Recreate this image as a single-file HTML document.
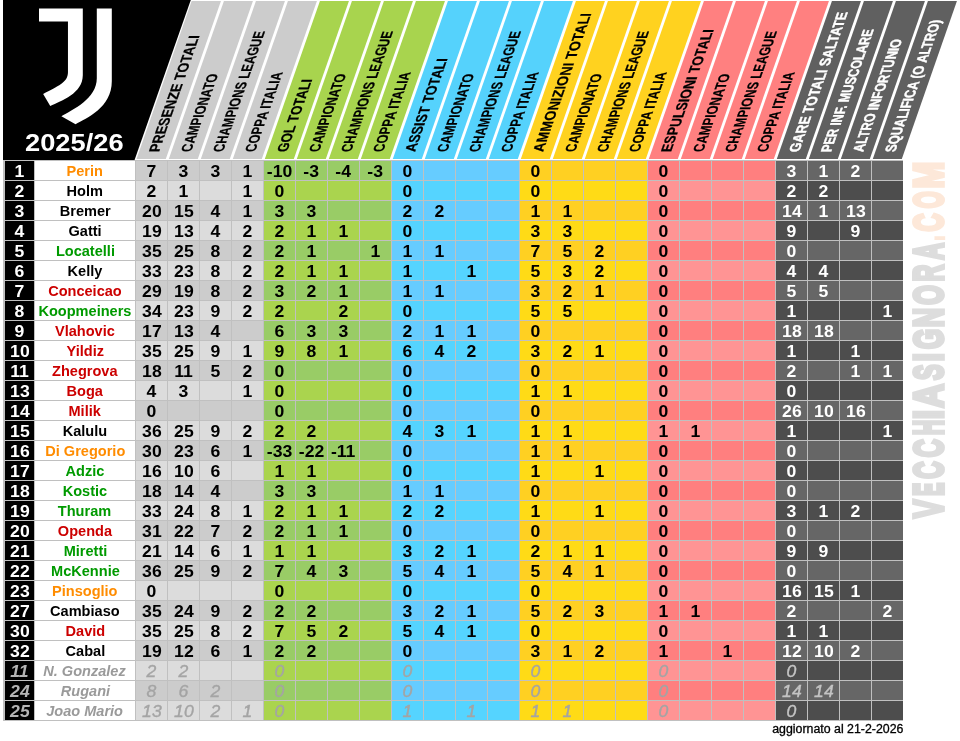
<!DOCTYPE html>
<html><head><meta charset="utf-8"><title>Juventus 2025/26</title>
<style>
html,body{margin:0;padding:0;background:#fff;}
body{width:960px;height:741px;overflow:hidden;position:relative;font-family:"Liberation Sans",Arial,sans-serif;}
svg{position:absolute;left:0;top:0;}
#t{position:absolute;left:3px;top:160px;width:900px;height:561px;background:#c0c0c0;}
.c{position:absolute;height:19px;line-height:21px;text-align:center;font-weight:bold;font-size:16px;color:#000;white-space:nowrap;overflow:hidden;}
.n{background:#000;color:#fff;width:29px;left:2px;}
.m{background:#fff;width:100px;left:32px;line-height:20px;}
.m span{display:inline-block;transform:scaleX(.97);font-size:15px;}
.d{width:31px;}
.d b,.n b{display:inline-block;font-weight:bold;transform:scaleX(1.1) translateY(0px);}
.w{color:#fff;}
.x{color:#9a9a9a;font-style:italic;}
.d.x b,.d.xw b{font-weight:normal;-webkit-text-stroke:0.35px currentColor;}
.d.x{color:#a4a4a4;}
.xw{color:#c4c4c4;font-style:italic;}
.n.xw{color:#b4b4b4;}
.o{color:#ff8c00;}.k{color:#000;}.g{color:#009a00;}.r{color:#cc0000;}
#upd{position:absolute;right:57px;top:722px;font-size:12px;line-height:14px;color:#000;white-space:nowrap;transform:scaleX(1.03);transform-origin:100% 0;-webkit-text-stroke:0.3px #000;}
</style></head><body>
<svg width="960" height="160" viewBox="0 0 960 160">
<polygon points="3,0 190.8,0 134.55,160 3,160" fill="#000"/>
<polygon points="191.64,1 220.94,1 165.8,159 136.5,159" fill="#cccccc"/>
<polygon points="223.94,1 252.94,1 197.8,159 168.8,159" fill="#cccccc"/>
<polygon points="255.94,1 284.94,1 229.8,159 200.8,159" fill="#cccccc"/>
<polygon points="287.94,1 316.94,1 261.8,159 232.8,159" fill="#cccccc"/>
<polygon points="319.94,1 348.94,1 293.8,159 264.8,159" fill="#a8d44e"/>
<polygon points="351.94,1 380.94,1 325.8,159 296.8,159" fill="#a8d44e"/>
<polygon points="383.94,1 412.94,1 357.8,159 328.8,159" fill="#a8d44e"/>
<polygon points="415.94,1 444.94,1 389.8,159 360.8,159" fill="#a8d44e"/>
<polygon points="447.94,1 476.94,1 421.8,159 392.8,159" fill="#55d2fc"/>
<polygon points="479.94,1 508.94,1 453.8,159 424.8,159" fill="#55d2fc"/>
<polygon points="511.94,1 540.94,1 485.8,159 456.8,159" fill="#55d2fc"/>
<polygon points="543.94,1 572.94,1 517.8,159 488.8,159" fill="#55d2fc"/>
<polygon points="575.94,1 604.94,1 549.8,159 520.8,159" fill="#ffd21f"/>
<polygon points="607.94,1 636.94,1 581.8,159 552.8,159" fill="#ffd21f"/>
<polygon points="639.94,1 668.94,1 613.8,159 584.8,159" fill="#ffd21f"/>
<polygon points="671.94,1 700.94,1 645.8,159 616.8,159" fill="#ffd21f"/>
<polygon points="703.94,1 732.94,1 677.8,159 648.8,159" fill="#ff8080"/>
<polygon points="735.94,1 764.94,1 709.8,159 680.8,159" fill="#ff8080"/>
<polygon points="767.94,1 796.94,1 741.8,159 712.8,159" fill="#ff8080"/>
<polygon points="799.94,1 828.94,1 773.8,159 744.8,159" fill="#ff8080"/>
<polygon points="831.94,1 860.94,1 805.8,159 776.8,159" fill="#606060"/>
<polygon points="863.94,1 892.94,1 837.8,159 808.8,159" fill="#606060"/>
<polygon points="895.94,1 924.94,1 869.8,159 840.8,159" fill="#606060"/>
<polygon points="927.94,1 956.94,1 901.8,159 872.8,159" fill="#606060"/>
<g font-family="Liberation Sans, Arial, sans-serif" font-weight="bold" font-size="15">
<text transform="matrix(0.35,-1,1,0,158.94,152)" fill="#000" stroke="#000" stroke-width="0.25" textLength="116.7" lengthAdjust="spacingAndGlyphs">PRESENZE TOTALI</text>
<text transform="matrix(0.35,-1,1,0,190.94,152)" fill="#000" stroke="#000" stroke-width="0.25" textLength="78.3" lengthAdjust="spacingAndGlyphs">CAMPIONATO</text>
<text transform="matrix(0.35,-1,1,0,222.94,152)" fill="#000" stroke="#000" stroke-width="0.25" textLength="121" lengthAdjust="spacingAndGlyphs">CHAMPIONS LEAGUE</text>
<text transform="matrix(0.35,-1,1,0,254.94,152)" fill="#000" stroke="#000" stroke-width="0.25" textLength="80" lengthAdjust="spacingAndGlyphs">COPPA ITALIA</text>
<text transform="matrix(0.35,-1,1,0,286.94,152)" fill="#000" stroke="#000" stroke-width="0.25" textLength="72.8" lengthAdjust="spacingAndGlyphs">GOL TOTALI</text>
<text transform="matrix(0.35,-1,1,0,318.94,152)" fill="#000" stroke="#000" stroke-width="0.25" textLength="78.3" lengthAdjust="spacingAndGlyphs">CAMPIONATO</text>
<text transform="matrix(0.35,-1,1,0,350.94,152)" fill="#000" stroke="#000" stroke-width="0.25" textLength="121" lengthAdjust="spacingAndGlyphs">CHAMPIONS LEAGUE</text>
<text transform="matrix(0.35,-1,1,0,382.94,152)" fill="#000" stroke="#000" stroke-width="0.25" textLength="80" lengthAdjust="spacingAndGlyphs">COPPA ITALIA</text>
<text transform="matrix(0.35,-1,1,0,414.94,152)" fill="#000" stroke="#000" stroke-width="0.25" textLength="93.8" lengthAdjust="spacingAndGlyphs">ASSIST TOTALI</text>
<text transform="matrix(0.35,-1,1,0,446.94,152)" fill="#000" stroke="#000" stroke-width="0.25" textLength="78.3" lengthAdjust="spacingAndGlyphs">CAMPIONATO</text>
<text transform="matrix(0.35,-1,1,0,478.94,152)" fill="#000" stroke="#000" stroke-width="0.25" textLength="121" lengthAdjust="spacingAndGlyphs">CHAMPIONS LEAGUE</text>
<text transform="matrix(0.35,-1,1,0,510.94,152)" fill="#000" stroke="#000" stroke-width="0.25" textLength="80" lengthAdjust="spacingAndGlyphs">COPPA ITALIA</text>
<text transform="matrix(0.35,-1,1,0,542.94,152)" fill="#000" stroke="#000" stroke-width="0.25" textLength="139" lengthAdjust="spacingAndGlyphs">AMMONIZIONI TOTALI</text>
<text transform="matrix(0.35,-1,1,0,574.94,152)" fill="#000" stroke="#000" stroke-width="0.25" textLength="78.3" lengthAdjust="spacingAndGlyphs">CAMPIONATO</text>
<text transform="matrix(0.35,-1,1,0,606.94,152)" fill="#000" stroke="#000" stroke-width="0.25" textLength="121" lengthAdjust="spacingAndGlyphs">CHAMPIONS LEAGUE</text>
<text transform="matrix(0.35,-1,1,0,638.94,152)" fill="#000" stroke="#000" stroke-width="0.25" textLength="80" lengthAdjust="spacingAndGlyphs">COPPA ITALIA</text>
<text transform="matrix(0.35,-1,1,0,670.94,152)" fill="#000" stroke="#000" stroke-width="0.25" textLength="122.8" lengthAdjust="spacingAndGlyphs">ESPULSIONI TOTALI</text>
<text transform="matrix(0.35,-1,1,0,702.94,152)" fill="#000" stroke="#000" stroke-width="0.25" textLength="78.3" lengthAdjust="spacingAndGlyphs">CAMPIONATO</text>
<text transform="matrix(0.35,-1,1,0,734.94,152)" fill="#000" stroke="#000" stroke-width="0.25" textLength="121" lengthAdjust="spacingAndGlyphs">CHAMPIONS LEAGUE</text>
<text transform="matrix(0.35,-1,1,0,766.94,152)" fill="#000" stroke="#000" stroke-width="0.25" textLength="80" lengthAdjust="spacingAndGlyphs">COPPA ITALIA</text>
<text transform="matrix(0.35,-1,1,0,798.94,152)" fill="#fff" stroke="#fff" stroke-width="0.45" textLength="140" lengthAdjust="spacingAndGlyphs">GARE TOTALI SALTATE</text>
<text transform="matrix(0.35,-1,1,0,830.94,152)" fill="#fff" stroke="#fff" stroke-width="0.45" textLength="122.8" lengthAdjust="spacingAndGlyphs">PER INF. MUSCOLARE</text>
<text transform="matrix(0.35,-1,1,0,862.94,152)" fill="#fff" stroke="#fff" stroke-width="0.45" textLength="113" lengthAdjust="spacingAndGlyphs">ALTRO INFORTUNIO</text>
<text transform="matrix(0.35,-1,1,0,894.94,152)" fill="#fff" stroke="#fff" stroke-width="0.45" textLength="132" lengthAdjust="spacingAndGlyphs">SQUALIFICA (O ALTRO)</text>
</g>
<path fill="#fff" d="M39,8.5 H82.8 V75.24 C82.63,93.68 61.49,100.43 50.24,106.11 L43.16,93.97 C57.88,85.94 67.96,82.61 67.96,72.21 V21.5 H39 Z"/>
<path fill="#fff" d="M96.8,8.5 H111.8 V81.32 C111.78,107.82 86.33,118.26 75.55,124.33 L61.38,116.23 C72,110.09 96.8,98.98 96.8,78.28 Z"/>
<text x="25" y="150.6" fill="#fff" font-family="Liberation Sans, Arial, sans-serif" font-weight="bold" font-size="23.5" textLength="98.6" lengthAdjust="spacingAndGlyphs">2025/26</text>
</svg>
<div id="t">
<div class="c n" style="top:1px"><b>1</b></div>
<div class="c m o" style="top:1px"><span>Perin</span></div>
<div class="c d" style="top:1px;left:133px;background:#cccccc"><b>7</b></div>
<div class="c d" style="top:1px;left:165px;background:#cccccc"><b>3</b></div>
<div class="c d" style="top:1px;left:197px;background:#cccccc"><b>3</b></div>
<div class="c d" style="top:1px;left:229px;background:#cccccc"><b>1</b></div>
<div class="c d" style="top:1px;left:261px;background:#99cc66"><b>-10</b></div>
<div class="c d" style="top:1px;left:293px;background:#99cc66"><b>-3</b></div>
<div class="c d" style="top:1px;left:325px;background:#99cc66"><b>-4</b></div>
<div class="c d" style="top:1px;left:357px;background:#99cc66"><b>-3</b></div>
<div class="c d" style="top:1px;left:389px;background:#66ccff"><b>0</b></div>
<div class="c d" style="top:1px;left:421px;background:#66ccff"></div>
<div class="c d" style="top:1px;left:453px;background:#66ccff"></div>
<div class="c d" style="top:1px;left:485px;background:#66ccff"></div>
<div class="c d" style="top:1px;left:517px;background:#ffd022"><b>0</b></div>
<div class="c d" style="top:1px;left:549px;background:#ffd022"></div>
<div class="c d" style="top:1px;left:581px;background:#ffd022"></div>
<div class="c d" style="top:1px;left:613px;background:#ffd022"></div>
<div class="c d" style="top:1px;left:645px;background:#ff7f7f"><b>0</b></div>
<div class="c d" style="top:1px;left:677px;background:#ff7f7f"></div>
<div class="c d" style="top:1px;left:709px;background:#ff7f7f"></div>
<div class="c d" style="top:1px;left:741px;background:#ff7f7f"></div>
<div class="c d w" style="top:1px;left:773px;background:#666666"><b>3</b></div>
<div class="c d w" style="top:1px;left:805px;background:#666666"><b>1</b></div>
<div class="c d w" style="top:1px;left:837px;background:#666666"><b>2</b></div>
<div class="c d w" style="top:1px;left:869px;background:#666666"></div>
<div class="c n" style="top:21px"><b>2</b></div>
<div class="c m k" style="top:21px"><span>Holm</span></div>
<div class="c d" style="top:21px;left:133px;background:#dcdcdc"><b>2</b></div>
<div class="c d" style="top:21px;left:165px;background:#dcdcdc"><b>1</b></div>
<div class="c d" style="top:21px;left:197px;background:#dcdcdc"></div>
<div class="c d" style="top:21px;left:229px;background:#dcdcdc"><b>1</b></div>
<div class="c d" style="top:21px;left:261px;background:#aad44e"><b>0</b></div>
<div class="c d" style="top:21px;left:293px;background:#aad44e"></div>
<div class="c d" style="top:21px;left:325px;background:#aad44e"></div>
<div class="c d" style="top:21px;left:357px;background:#aad44e"></div>
<div class="c d" style="top:21px;left:389px;background:#55d4ff"><b>0</b></div>
<div class="c d" style="top:21px;left:421px;background:#55d4ff"></div>
<div class="c d" style="top:21px;left:453px;background:#55d4ff"></div>
<div class="c d" style="top:21px;left:485px;background:#55d4ff"></div>
<div class="c d" style="top:21px;left:517px;background:#ffdb16"><b>0</b></div>
<div class="c d" style="top:21px;left:549px;background:#ffdb16"></div>
<div class="c d" style="top:21px;left:581px;background:#ffdb16"></div>
<div class="c d" style="top:21px;left:613px;background:#ffdb16"></div>
<div class="c d" style="top:21px;left:645px;background:#ff9494"><b>0</b></div>
<div class="c d" style="top:21px;left:677px;background:#ff9494"></div>
<div class="c d" style="top:21px;left:709px;background:#ff9494"></div>
<div class="c d" style="top:21px;left:741px;background:#ff9494"></div>
<div class="c d w" style="top:21px;left:773px;background:#4d4d4d"><b>2</b></div>
<div class="c d w" style="top:21px;left:805px;background:#4d4d4d"><b>2</b></div>
<div class="c d w" style="top:21px;left:837px;background:#4d4d4d"></div>
<div class="c d w" style="top:21px;left:869px;background:#4d4d4d"></div>
<div class="c n" style="top:41px"><b>3</b></div>
<div class="c m k" style="top:41px"><span>Bremer</span></div>
<div class="c d" style="top:41px;left:133px;background:#cccccc"><b>20</b></div>
<div class="c d" style="top:41px;left:165px;background:#cccccc"><b>15</b></div>
<div class="c d" style="top:41px;left:197px;background:#cccccc"><b>4</b></div>
<div class="c d" style="top:41px;left:229px;background:#cccccc"><b>1</b></div>
<div class="c d" style="top:41px;left:261px;background:#99cc66"><b>3</b></div>
<div class="c d" style="top:41px;left:293px;background:#99cc66"><b>3</b></div>
<div class="c d" style="top:41px;left:325px;background:#99cc66"></div>
<div class="c d" style="top:41px;left:357px;background:#99cc66"></div>
<div class="c d" style="top:41px;left:389px;background:#66ccff"><b>2</b></div>
<div class="c d" style="top:41px;left:421px;background:#66ccff"><b>2</b></div>
<div class="c d" style="top:41px;left:453px;background:#66ccff"></div>
<div class="c d" style="top:41px;left:485px;background:#66ccff"></div>
<div class="c d" style="top:41px;left:517px;background:#ffd022"><b>1</b></div>
<div class="c d" style="top:41px;left:549px;background:#ffd022"><b>1</b></div>
<div class="c d" style="top:41px;left:581px;background:#ffd022"></div>
<div class="c d" style="top:41px;left:613px;background:#ffd022"></div>
<div class="c d" style="top:41px;left:645px;background:#ff7f7f"><b>0</b></div>
<div class="c d" style="top:41px;left:677px;background:#ff7f7f"></div>
<div class="c d" style="top:41px;left:709px;background:#ff7f7f"></div>
<div class="c d" style="top:41px;left:741px;background:#ff7f7f"></div>
<div class="c d w" style="top:41px;left:773px;background:#666666"><b>14</b></div>
<div class="c d w" style="top:41px;left:805px;background:#666666"><b>1</b></div>
<div class="c d w" style="top:41px;left:837px;background:#666666"><b>13</b></div>
<div class="c d w" style="top:41px;left:869px;background:#666666"></div>
<div class="c n" style="top:61px"><b>4</b></div>
<div class="c m k" style="top:61px"><span>Gatti</span></div>
<div class="c d" style="top:61px;left:133px;background:#dcdcdc"><b>19</b></div>
<div class="c d" style="top:61px;left:165px;background:#dcdcdc"><b>13</b></div>
<div class="c d" style="top:61px;left:197px;background:#dcdcdc"><b>4</b></div>
<div class="c d" style="top:61px;left:229px;background:#dcdcdc"><b>2</b></div>
<div class="c d" style="top:61px;left:261px;background:#aad44e"><b>2</b></div>
<div class="c d" style="top:61px;left:293px;background:#aad44e"><b>1</b></div>
<div class="c d" style="top:61px;left:325px;background:#aad44e"><b>1</b></div>
<div class="c d" style="top:61px;left:357px;background:#aad44e"></div>
<div class="c d" style="top:61px;left:389px;background:#55d4ff"><b>0</b></div>
<div class="c d" style="top:61px;left:421px;background:#55d4ff"></div>
<div class="c d" style="top:61px;left:453px;background:#55d4ff"></div>
<div class="c d" style="top:61px;left:485px;background:#55d4ff"></div>
<div class="c d" style="top:61px;left:517px;background:#ffdb16"><b>3</b></div>
<div class="c d" style="top:61px;left:549px;background:#ffdb16"><b>3</b></div>
<div class="c d" style="top:61px;left:581px;background:#ffdb16"></div>
<div class="c d" style="top:61px;left:613px;background:#ffdb16"></div>
<div class="c d" style="top:61px;left:645px;background:#ff9494"><b>0</b></div>
<div class="c d" style="top:61px;left:677px;background:#ff9494"></div>
<div class="c d" style="top:61px;left:709px;background:#ff9494"></div>
<div class="c d" style="top:61px;left:741px;background:#ff9494"></div>
<div class="c d w" style="top:61px;left:773px;background:#4d4d4d"><b>9</b></div>
<div class="c d w" style="top:61px;left:805px;background:#4d4d4d"></div>
<div class="c d w" style="top:61px;left:837px;background:#4d4d4d"><b>9</b></div>
<div class="c d w" style="top:61px;left:869px;background:#4d4d4d"></div>
<div class="c n" style="top:81px"><b>5</b></div>
<div class="c m g" style="top:81px"><span>Locatelli</span></div>
<div class="c d" style="top:81px;left:133px;background:#cccccc"><b>35</b></div>
<div class="c d" style="top:81px;left:165px;background:#cccccc"><b>25</b></div>
<div class="c d" style="top:81px;left:197px;background:#cccccc"><b>8</b></div>
<div class="c d" style="top:81px;left:229px;background:#cccccc"><b>2</b></div>
<div class="c d" style="top:81px;left:261px;background:#99cc66"><b>2</b></div>
<div class="c d" style="top:81px;left:293px;background:#99cc66"><b>1</b></div>
<div class="c d" style="top:81px;left:325px;background:#99cc66"></div>
<div class="c d" style="top:81px;left:357px;background:#99cc66"><b>1</b></div>
<div class="c d" style="top:81px;left:389px;background:#66ccff"><b>1</b></div>
<div class="c d" style="top:81px;left:421px;background:#66ccff"><b>1</b></div>
<div class="c d" style="top:81px;left:453px;background:#66ccff"></div>
<div class="c d" style="top:81px;left:485px;background:#66ccff"></div>
<div class="c d" style="top:81px;left:517px;background:#ffd022"><b>7</b></div>
<div class="c d" style="top:81px;left:549px;background:#ffd022"><b>5</b></div>
<div class="c d" style="top:81px;left:581px;background:#ffd022"><b>2</b></div>
<div class="c d" style="top:81px;left:613px;background:#ffd022"></div>
<div class="c d" style="top:81px;left:645px;background:#ff7f7f"><b>0</b></div>
<div class="c d" style="top:81px;left:677px;background:#ff7f7f"></div>
<div class="c d" style="top:81px;left:709px;background:#ff7f7f"></div>
<div class="c d" style="top:81px;left:741px;background:#ff7f7f"></div>
<div class="c d w" style="top:81px;left:773px;background:#666666"><b>0</b></div>
<div class="c d w" style="top:81px;left:805px;background:#666666"></div>
<div class="c d w" style="top:81px;left:837px;background:#666666"></div>
<div class="c d w" style="top:81px;left:869px;background:#666666"></div>
<div class="c n" style="top:101px"><b>6</b></div>
<div class="c m k" style="top:101px"><span>Kelly</span></div>
<div class="c d" style="top:101px;left:133px;background:#dcdcdc"><b>33</b></div>
<div class="c d" style="top:101px;left:165px;background:#dcdcdc"><b>23</b></div>
<div class="c d" style="top:101px;left:197px;background:#dcdcdc"><b>8</b></div>
<div class="c d" style="top:101px;left:229px;background:#dcdcdc"><b>2</b></div>
<div class="c d" style="top:101px;left:261px;background:#aad44e"><b>2</b></div>
<div class="c d" style="top:101px;left:293px;background:#aad44e"><b>1</b></div>
<div class="c d" style="top:101px;left:325px;background:#aad44e"><b>1</b></div>
<div class="c d" style="top:101px;left:357px;background:#aad44e"></div>
<div class="c d" style="top:101px;left:389px;background:#55d4ff"><b>1</b></div>
<div class="c d" style="top:101px;left:421px;background:#55d4ff"></div>
<div class="c d" style="top:101px;left:453px;background:#55d4ff"><b>1</b></div>
<div class="c d" style="top:101px;left:485px;background:#55d4ff"></div>
<div class="c d" style="top:101px;left:517px;background:#ffdb16"><b>5</b></div>
<div class="c d" style="top:101px;left:549px;background:#ffdb16"><b>3</b></div>
<div class="c d" style="top:101px;left:581px;background:#ffdb16"><b>2</b></div>
<div class="c d" style="top:101px;left:613px;background:#ffdb16"></div>
<div class="c d" style="top:101px;left:645px;background:#ff9494"><b>0</b></div>
<div class="c d" style="top:101px;left:677px;background:#ff9494"></div>
<div class="c d" style="top:101px;left:709px;background:#ff9494"></div>
<div class="c d" style="top:101px;left:741px;background:#ff9494"></div>
<div class="c d w" style="top:101px;left:773px;background:#4d4d4d"><b>4</b></div>
<div class="c d w" style="top:101px;left:805px;background:#4d4d4d"><b>4</b></div>
<div class="c d w" style="top:101px;left:837px;background:#4d4d4d"></div>
<div class="c d w" style="top:101px;left:869px;background:#4d4d4d"></div>
<div class="c n" style="top:121px"><b>7</b></div>
<div class="c m r" style="top:121px"><span>Conceicao</span></div>
<div class="c d" style="top:121px;left:133px;background:#cccccc"><b>29</b></div>
<div class="c d" style="top:121px;left:165px;background:#cccccc"><b>19</b></div>
<div class="c d" style="top:121px;left:197px;background:#cccccc"><b>8</b></div>
<div class="c d" style="top:121px;left:229px;background:#cccccc"><b>2</b></div>
<div class="c d" style="top:121px;left:261px;background:#99cc66"><b>3</b></div>
<div class="c d" style="top:121px;left:293px;background:#99cc66"><b>2</b></div>
<div class="c d" style="top:121px;left:325px;background:#99cc66"><b>1</b></div>
<div class="c d" style="top:121px;left:357px;background:#99cc66"></div>
<div class="c d" style="top:121px;left:389px;background:#66ccff"><b>1</b></div>
<div class="c d" style="top:121px;left:421px;background:#66ccff"><b>1</b></div>
<div class="c d" style="top:121px;left:453px;background:#66ccff"></div>
<div class="c d" style="top:121px;left:485px;background:#66ccff"></div>
<div class="c d" style="top:121px;left:517px;background:#ffd022"><b>3</b></div>
<div class="c d" style="top:121px;left:549px;background:#ffd022"><b>2</b></div>
<div class="c d" style="top:121px;left:581px;background:#ffd022"><b>1</b></div>
<div class="c d" style="top:121px;left:613px;background:#ffd022"></div>
<div class="c d" style="top:121px;left:645px;background:#ff7f7f"><b>0</b></div>
<div class="c d" style="top:121px;left:677px;background:#ff7f7f"></div>
<div class="c d" style="top:121px;left:709px;background:#ff7f7f"></div>
<div class="c d" style="top:121px;left:741px;background:#ff7f7f"></div>
<div class="c d w" style="top:121px;left:773px;background:#666666"><b>5</b></div>
<div class="c d w" style="top:121px;left:805px;background:#666666"><b>5</b></div>
<div class="c d w" style="top:121px;left:837px;background:#666666"></div>
<div class="c d w" style="top:121px;left:869px;background:#666666"></div>
<div class="c n" style="top:141px"><b>8</b></div>
<div class="c m g" style="top:141px"><span>Koopmeiners</span></div>
<div class="c d" style="top:141px;left:133px;background:#dcdcdc"><b>34</b></div>
<div class="c d" style="top:141px;left:165px;background:#dcdcdc"><b>23</b></div>
<div class="c d" style="top:141px;left:197px;background:#dcdcdc"><b>9</b></div>
<div class="c d" style="top:141px;left:229px;background:#dcdcdc"><b>2</b></div>
<div class="c d" style="top:141px;left:261px;background:#aad44e"><b>2</b></div>
<div class="c d" style="top:141px;left:293px;background:#aad44e"></div>
<div class="c d" style="top:141px;left:325px;background:#aad44e"><b>2</b></div>
<div class="c d" style="top:141px;left:357px;background:#aad44e"></div>
<div class="c d" style="top:141px;left:389px;background:#55d4ff"><b>0</b></div>
<div class="c d" style="top:141px;left:421px;background:#55d4ff"></div>
<div class="c d" style="top:141px;left:453px;background:#55d4ff"></div>
<div class="c d" style="top:141px;left:485px;background:#55d4ff"></div>
<div class="c d" style="top:141px;left:517px;background:#ffdb16"><b>5</b></div>
<div class="c d" style="top:141px;left:549px;background:#ffdb16"><b>5</b></div>
<div class="c d" style="top:141px;left:581px;background:#ffdb16"></div>
<div class="c d" style="top:141px;left:613px;background:#ffdb16"></div>
<div class="c d" style="top:141px;left:645px;background:#ff9494"><b>0</b></div>
<div class="c d" style="top:141px;left:677px;background:#ff9494"></div>
<div class="c d" style="top:141px;left:709px;background:#ff9494"></div>
<div class="c d" style="top:141px;left:741px;background:#ff9494"></div>
<div class="c d w" style="top:141px;left:773px;background:#4d4d4d"><b>1</b></div>
<div class="c d w" style="top:141px;left:805px;background:#4d4d4d"></div>
<div class="c d w" style="top:141px;left:837px;background:#4d4d4d"></div>
<div class="c d w" style="top:141px;left:869px;background:#4d4d4d"><b>1</b></div>
<div class="c n" style="top:161px"><b>9</b></div>
<div class="c m r" style="top:161px"><span>Vlahovic</span></div>
<div class="c d" style="top:161px;left:133px;background:#cccccc"><b>17</b></div>
<div class="c d" style="top:161px;left:165px;background:#cccccc"><b>13</b></div>
<div class="c d" style="top:161px;left:197px;background:#cccccc"><b>4</b></div>
<div class="c d" style="top:161px;left:229px;background:#cccccc"></div>
<div class="c d" style="top:161px;left:261px;background:#99cc66"><b>6</b></div>
<div class="c d" style="top:161px;left:293px;background:#99cc66"><b>3</b></div>
<div class="c d" style="top:161px;left:325px;background:#99cc66"><b>3</b></div>
<div class="c d" style="top:161px;left:357px;background:#99cc66"></div>
<div class="c d" style="top:161px;left:389px;background:#66ccff"><b>2</b></div>
<div class="c d" style="top:161px;left:421px;background:#66ccff"><b>1</b></div>
<div class="c d" style="top:161px;left:453px;background:#66ccff"><b>1</b></div>
<div class="c d" style="top:161px;left:485px;background:#66ccff"></div>
<div class="c d" style="top:161px;left:517px;background:#ffd022"><b>0</b></div>
<div class="c d" style="top:161px;left:549px;background:#ffd022"></div>
<div class="c d" style="top:161px;left:581px;background:#ffd022"></div>
<div class="c d" style="top:161px;left:613px;background:#ffd022"></div>
<div class="c d" style="top:161px;left:645px;background:#ff7f7f"><b>0</b></div>
<div class="c d" style="top:161px;left:677px;background:#ff7f7f"></div>
<div class="c d" style="top:161px;left:709px;background:#ff7f7f"></div>
<div class="c d" style="top:161px;left:741px;background:#ff7f7f"></div>
<div class="c d w" style="top:161px;left:773px;background:#666666"><b>18</b></div>
<div class="c d w" style="top:161px;left:805px;background:#666666"><b>18</b></div>
<div class="c d w" style="top:161px;left:837px;background:#666666"></div>
<div class="c d w" style="top:161px;left:869px;background:#666666"></div>
<div class="c n" style="top:181px"><b>10</b></div>
<div class="c m r" style="top:181px"><span>Yildiz</span></div>
<div class="c d" style="top:181px;left:133px;background:#dcdcdc"><b>35</b></div>
<div class="c d" style="top:181px;left:165px;background:#dcdcdc"><b>25</b></div>
<div class="c d" style="top:181px;left:197px;background:#dcdcdc"><b>9</b></div>
<div class="c d" style="top:181px;left:229px;background:#dcdcdc"><b>1</b></div>
<div class="c d" style="top:181px;left:261px;background:#aad44e"><b>9</b></div>
<div class="c d" style="top:181px;left:293px;background:#aad44e"><b>8</b></div>
<div class="c d" style="top:181px;left:325px;background:#aad44e"><b>1</b></div>
<div class="c d" style="top:181px;left:357px;background:#aad44e"></div>
<div class="c d" style="top:181px;left:389px;background:#55d4ff"><b>6</b></div>
<div class="c d" style="top:181px;left:421px;background:#55d4ff"><b>4</b></div>
<div class="c d" style="top:181px;left:453px;background:#55d4ff"><b>2</b></div>
<div class="c d" style="top:181px;left:485px;background:#55d4ff"></div>
<div class="c d" style="top:181px;left:517px;background:#ffdb16"><b>3</b></div>
<div class="c d" style="top:181px;left:549px;background:#ffdb16"><b>2</b></div>
<div class="c d" style="top:181px;left:581px;background:#ffdb16"><b>1</b></div>
<div class="c d" style="top:181px;left:613px;background:#ffdb16"></div>
<div class="c d" style="top:181px;left:645px;background:#ff9494"><b>0</b></div>
<div class="c d" style="top:181px;left:677px;background:#ff9494"></div>
<div class="c d" style="top:181px;left:709px;background:#ff9494"></div>
<div class="c d" style="top:181px;left:741px;background:#ff9494"></div>
<div class="c d w" style="top:181px;left:773px;background:#4d4d4d"><b>1</b></div>
<div class="c d w" style="top:181px;left:805px;background:#4d4d4d"></div>
<div class="c d w" style="top:181px;left:837px;background:#4d4d4d"><b>1</b></div>
<div class="c d w" style="top:181px;left:869px;background:#4d4d4d"></div>
<div class="c n" style="top:201px"><b>11</b></div>
<div class="c m r" style="top:201px"><span>Zhegrova</span></div>
<div class="c d" style="top:201px;left:133px;background:#cccccc"><b>18</b></div>
<div class="c d" style="top:201px;left:165px;background:#cccccc"><b>11</b></div>
<div class="c d" style="top:201px;left:197px;background:#cccccc"><b>5</b></div>
<div class="c d" style="top:201px;left:229px;background:#cccccc"><b>2</b></div>
<div class="c d" style="top:201px;left:261px;background:#99cc66"><b>0</b></div>
<div class="c d" style="top:201px;left:293px;background:#99cc66"></div>
<div class="c d" style="top:201px;left:325px;background:#99cc66"></div>
<div class="c d" style="top:201px;left:357px;background:#99cc66"></div>
<div class="c d" style="top:201px;left:389px;background:#66ccff"><b>0</b></div>
<div class="c d" style="top:201px;left:421px;background:#66ccff"></div>
<div class="c d" style="top:201px;left:453px;background:#66ccff"></div>
<div class="c d" style="top:201px;left:485px;background:#66ccff"></div>
<div class="c d" style="top:201px;left:517px;background:#ffd022"><b>0</b></div>
<div class="c d" style="top:201px;left:549px;background:#ffd022"></div>
<div class="c d" style="top:201px;left:581px;background:#ffd022"></div>
<div class="c d" style="top:201px;left:613px;background:#ffd022"></div>
<div class="c d" style="top:201px;left:645px;background:#ff7f7f"><b>0</b></div>
<div class="c d" style="top:201px;left:677px;background:#ff7f7f"></div>
<div class="c d" style="top:201px;left:709px;background:#ff7f7f"></div>
<div class="c d" style="top:201px;left:741px;background:#ff7f7f"></div>
<div class="c d w" style="top:201px;left:773px;background:#666666"><b>2</b></div>
<div class="c d w" style="top:201px;left:805px;background:#666666"></div>
<div class="c d w" style="top:201px;left:837px;background:#666666"><b>1</b></div>
<div class="c d w" style="top:201px;left:869px;background:#666666"><b>1</b></div>
<div class="c n" style="top:221px"><b>13</b></div>
<div class="c m r" style="top:221px"><span>Boga</span></div>
<div class="c d" style="top:221px;left:133px;background:#dcdcdc"><b>4</b></div>
<div class="c d" style="top:221px;left:165px;background:#dcdcdc"><b>3</b></div>
<div class="c d" style="top:221px;left:197px;background:#dcdcdc"></div>
<div class="c d" style="top:221px;left:229px;background:#dcdcdc"><b>1</b></div>
<div class="c d" style="top:221px;left:261px;background:#aad44e"><b>0</b></div>
<div class="c d" style="top:221px;left:293px;background:#aad44e"></div>
<div class="c d" style="top:221px;left:325px;background:#aad44e"></div>
<div class="c d" style="top:221px;left:357px;background:#aad44e"></div>
<div class="c d" style="top:221px;left:389px;background:#55d4ff"><b>0</b></div>
<div class="c d" style="top:221px;left:421px;background:#55d4ff"></div>
<div class="c d" style="top:221px;left:453px;background:#55d4ff"></div>
<div class="c d" style="top:221px;left:485px;background:#55d4ff"></div>
<div class="c d" style="top:221px;left:517px;background:#ffdb16"><b>1</b></div>
<div class="c d" style="top:221px;left:549px;background:#ffdb16"><b>1</b></div>
<div class="c d" style="top:221px;left:581px;background:#ffdb16"></div>
<div class="c d" style="top:221px;left:613px;background:#ffdb16"></div>
<div class="c d" style="top:221px;left:645px;background:#ff9494"><b>0</b></div>
<div class="c d" style="top:221px;left:677px;background:#ff9494"></div>
<div class="c d" style="top:221px;left:709px;background:#ff9494"></div>
<div class="c d" style="top:221px;left:741px;background:#ff9494"></div>
<div class="c d w" style="top:221px;left:773px;background:#4d4d4d"><b>0</b></div>
<div class="c d w" style="top:221px;left:805px;background:#4d4d4d"></div>
<div class="c d w" style="top:221px;left:837px;background:#4d4d4d"></div>
<div class="c d w" style="top:221px;left:869px;background:#4d4d4d"></div>
<div class="c n" style="top:241px"><b>14</b></div>
<div class="c m r" style="top:241px"><span>Milik</span></div>
<div class="c d" style="top:241px;left:133px;background:#cccccc"><b>0</b></div>
<div class="c d" style="top:241px;left:165px;background:#cccccc"></div>
<div class="c d" style="top:241px;left:197px;background:#cccccc"></div>
<div class="c d" style="top:241px;left:229px;background:#cccccc"></div>
<div class="c d" style="top:241px;left:261px;background:#99cc66"><b>0</b></div>
<div class="c d" style="top:241px;left:293px;background:#99cc66"></div>
<div class="c d" style="top:241px;left:325px;background:#99cc66"></div>
<div class="c d" style="top:241px;left:357px;background:#99cc66"></div>
<div class="c d" style="top:241px;left:389px;background:#66ccff"><b>0</b></div>
<div class="c d" style="top:241px;left:421px;background:#66ccff"></div>
<div class="c d" style="top:241px;left:453px;background:#66ccff"></div>
<div class="c d" style="top:241px;left:485px;background:#66ccff"></div>
<div class="c d" style="top:241px;left:517px;background:#ffd022"><b>0</b></div>
<div class="c d" style="top:241px;left:549px;background:#ffd022"></div>
<div class="c d" style="top:241px;left:581px;background:#ffd022"></div>
<div class="c d" style="top:241px;left:613px;background:#ffd022"></div>
<div class="c d" style="top:241px;left:645px;background:#ff7f7f"><b>0</b></div>
<div class="c d" style="top:241px;left:677px;background:#ff7f7f"></div>
<div class="c d" style="top:241px;left:709px;background:#ff7f7f"></div>
<div class="c d" style="top:241px;left:741px;background:#ff7f7f"></div>
<div class="c d w" style="top:241px;left:773px;background:#666666"><b>26</b></div>
<div class="c d w" style="top:241px;left:805px;background:#666666"><b>10</b></div>
<div class="c d w" style="top:241px;left:837px;background:#666666"><b>16</b></div>
<div class="c d w" style="top:241px;left:869px;background:#666666"></div>
<div class="c n" style="top:261px"><b>15</b></div>
<div class="c m k" style="top:261px"><span>Kalulu</span></div>
<div class="c d" style="top:261px;left:133px;background:#dcdcdc"><b>36</b></div>
<div class="c d" style="top:261px;left:165px;background:#dcdcdc"><b>25</b></div>
<div class="c d" style="top:261px;left:197px;background:#dcdcdc"><b>9</b></div>
<div class="c d" style="top:261px;left:229px;background:#dcdcdc"><b>2</b></div>
<div class="c d" style="top:261px;left:261px;background:#aad44e"><b>2</b></div>
<div class="c d" style="top:261px;left:293px;background:#aad44e"><b>2</b></div>
<div class="c d" style="top:261px;left:325px;background:#aad44e"></div>
<div class="c d" style="top:261px;left:357px;background:#aad44e"></div>
<div class="c d" style="top:261px;left:389px;background:#55d4ff"><b>4</b></div>
<div class="c d" style="top:261px;left:421px;background:#55d4ff"><b>3</b></div>
<div class="c d" style="top:261px;left:453px;background:#55d4ff"><b>1</b></div>
<div class="c d" style="top:261px;left:485px;background:#55d4ff"></div>
<div class="c d" style="top:261px;left:517px;background:#ffdb16"><b>1</b></div>
<div class="c d" style="top:261px;left:549px;background:#ffdb16"><b>1</b></div>
<div class="c d" style="top:261px;left:581px;background:#ffdb16"></div>
<div class="c d" style="top:261px;left:613px;background:#ffdb16"></div>
<div class="c d" style="top:261px;left:645px;background:#ff9494"><b>1</b></div>
<div class="c d" style="top:261px;left:677px;background:#ff9494"><b>1</b></div>
<div class="c d" style="top:261px;left:709px;background:#ff9494"></div>
<div class="c d" style="top:261px;left:741px;background:#ff9494"></div>
<div class="c d w" style="top:261px;left:773px;background:#4d4d4d"><b>1</b></div>
<div class="c d w" style="top:261px;left:805px;background:#4d4d4d"></div>
<div class="c d w" style="top:261px;left:837px;background:#4d4d4d"></div>
<div class="c d w" style="top:261px;left:869px;background:#4d4d4d"><b>1</b></div>
<div class="c n" style="top:281px"><b>16</b></div>
<div class="c m o" style="top:281px"><span>Di Gregorio</span></div>
<div class="c d" style="top:281px;left:133px;background:#cccccc"><b>30</b></div>
<div class="c d" style="top:281px;left:165px;background:#cccccc"><b>23</b></div>
<div class="c d" style="top:281px;left:197px;background:#cccccc"><b>6</b></div>
<div class="c d" style="top:281px;left:229px;background:#cccccc"><b>1</b></div>
<div class="c d" style="top:281px;left:261px;background:#99cc66"><b>-33</b></div>
<div class="c d" style="top:281px;left:293px;background:#99cc66"><b>-22</b></div>
<div class="c d" style="top:281px;left:325px;background:#99cc66"><b>-11</b></div>
<div class="c d" style="top:281px;left:357px;background:#99cc66"></div>
<div class="c d" style="top:281px;left:389px;background:#66ccff"><b>0</b></div>
<div class="c d" style="top:281px;left:421px;background:#66ccff"></div>
<div class="c d" style="top:281px;left:453px;background:#66ccff"></div>
<div class="c d" style="top:281px;left:485px;background:#66ccff"></div>
<div class="c d" style="top:281px;left:517px;background:#ffd022"><b>1</b></div>
<div class="c d" style="top:281px;left:549px;background:#ffd022"><b>1</b></div>
<div class="c d" style="top:281px;left:581px;background:#ffd022"></div>
<div class="c d" style="top:281px;left:613px;background:#ffd022"></div>
<div class="c d" style="top:281px;left:645px;background:#ff7f7f"><b>0</b></div>
<div class="c d" style="top:281px;left:677px;background:#ff7f7f"></div>
<div class="c d" style="top:281px;left:709px;background:#ff7f7f"></div>
<div class="c d" style="top:281px;left:741px;background:#ff7f7f"></div>
<div class="c d w" style="top:281px;left:773px;background:#666666"><b>0</b></div>
<div class="c d w" style="top:281px;left:805px;background:#666666"></div>
<div class="c d w" style="top:281px;left:837px;background:#666666"></div>
<div class="c d w" style="top:281px;left:869px;background:#666666"></div>
<div class="c n" style="top:301px"><b>17</b></div>
<div class="c m g" style="top:301px"><span>Adzic</span></div>
<div class="c d" style="top:301px;left:133px;background:#dcdcdc"><b>16</b></div>
<div class="c d" style="top:301px;left:165px;background:#dcdcdc"><b>10</b></div>
<div class="c d" style="top:301px;left:197px;background:#dcdcdc"><b>6</b></div>
<div class="c d" style="top:301px;left:229px;background:#dcdcdc"></div>
<div class="c d" style="top:301px;left:261px;background:#aad44e"><b>1</b></div>
<div class="c d" style="top:301px;left:293px;background:#aad44e"><b>1</b></div>
<div class="c d" style="top:301px;left:325px;background:#aad44e"></div>
<div class="c d" style="top:301px;left:357px;background:#aad44e"></div>
<div class="c d" style="top:301px;left:389px;background:#55d4ff"><b>0</b></div>
<div class="c d" style="top:301px;left:421px;background:#55d4ff"></div>
<div class="c d" style="top:301px;left:453px;background:#55d4ff"></div>
<div class="c d" style="top:301px;left:485px;background:#55d4ff"></div>
<div class="c d" style="top:301px;left:517px;background:#ffdb16"><b>1</b></div>
<div class="c d" style="top:301px;left:549px;background:#ffdb16"></div>
<div class="c d" style="top:301px;left:581px;background:#ffdb16"><b>1</b></div>
<div class="c d" style="top:301px;left:613px;background:#ffdb16"></div>
<div class="c d" style="top:301px;left:645px;background:#ff9494"><b>0</b></div>
<div class="c d" style="top:301px;left:677px;background:#ff9494"></div>
<div class="c d" style="top:301px;left:709px;background:#ff9494"></div>
<div class="c d" style="top:301px;left:741px;background:#ff9494"></div>
<div class="c d w" style="top:301px;left:773px;background:#4d4d4d"><b>0</b></div>
<div class="c d w" style="top:301px;left:805px;background:#4d4d4d"></div>
<div class="c d w" style="top:301px;left:837px;background:#4d4d4d"></div>
<div class="c d w" style="top:301px;left:869px;background:#4d4d4d"></div>
<div class="c n" style="top:321px"><b>18</b></div>
<div class="c m g" style="top:321px"><span>Kostic</span></div>
<div class="c d" style="top:321px;left:133px;background:#cccccc"><b>18</b></div>
<div class="c d" style="top:321px;left:165px;background:#cccccc"><b>14</b></div>
<div class="c d" style="top:321px;left:197px;background:#cccccc"><b>4</b></div>
<div class="c d" style="top:321px;left:229px;background:#cccccc"></div>
<div class="c d" style="top:321px;left:261px;background:#99cc66"><b>3</b></div>
<div class="c d" style="top:321px;left:293px;background:#99cc66"><b>3</b></div>
<div class="c d" style="top:321px;left:325px;background:#99cc66"></div>
<div class="c d" style="top:321px;left:357px;background:#99cc66"></div>
<div class="c d" style="top:321px;left:389px;background:#66ccff"><b>1</b></div>
<div class="c d" style="top:321px;left:421px;background:#66ccff"><b>1</b></div>
<div class="c d" style="top:321px;left:453px;background:#66ccff"></div>
<div class="c d" style="top:321px;left:485px;background:#66ccff"></div>
<div class="c d" style="top:321px;left:517px;background:#ffd022"><b>0</b></div>
<div class="c d" style="top:321px;left:549px;background:#ffd022"></div>
<div class="c d" style="top:321px;left:581px;background:#ffd022"></div>
<div class="c d" style="top:321px;left:613px;background:#ffd022"></div>
<div class="c d" style="top:321px;left:645px;background:#ff7f7f"><b>0</b></div>
<div class="c d" style="top:321px;left:677px;background:#ff7f7f"></div>
<div class="c d" style="top:321px;left:709px;background:#ff7f7f"></div>
<div class="c d" style="top:321px;left:741px;background:#ff7f7f"></div>
<div class="c d w" style="top:321px;left:773px;background:#666666"><b>0</b></div>
<div class="c d w" style="top:321px;left:805px;background:#666666"></div>
<div class="c d w" style="top:321px;left:837px;background:#666666"></div>
<div class="c d w" style="top:321px;left:869px;background:#666666"></div>
<div class="c n" style="top:341px"><b>19</b></div>
<div class="c m g" style="top:341px"><span>Thuram</span></div>
<div class="c d" style="top:341px;left:133px;background:#dcdcdc"><b>33</b></div>
<div class="c d" style="top:341px;left:165px;background:#dcdcdc"><b>24</b></div>
<div class="c d" style="top:341px;left:197px;background:#dcdcdc"><b>8</b></div>
<div class="c d" style="top:341px;left:229px;background:#dcdcdc"><b>1</b></div>
<div class="c d" style="top:341px;left:261px;background:#aad44e"><b>2</b></div>
<div class="c d" style="top:341px;left:293px;background:#aad44e"><b>1</b></div>
<div class="c d" style="top:341px;left:325px;background:#aad44e"><b>1</b></div>
<div class="c d" style="top:341px;left:357px;background:#aad44e"></div>
<div class="c d" style="top:341px;left:389px;background:#55d4ff"><b>2</b></div>
<div class="c d" style="top:341px;left:421px;background:#55d4ff"><b>2</b></div>
<div class="c d" style="top:341px;left:453px;background:#55d4ff"></div>
<div class="c d" style="top:341px;left:485px;background:#55d4ff"></div>
<div class="c d" style="top:341px;left:517px;background:#ffdb16"><b>1</b></div>
<div class="c d" style="top:341px;left:549px;background:#ffdb16"></div>
<div class="c d" style="top:341px;left:581px;background:#ffdb16"><b>1</b></div>
<div class="c d" style="top:341px;left:613px;background:#ffdb16"></div>
<div class="c d" style="top:341px;left:645px;background:#ff9494"><b>0</b></div>
<div class="c d" style="top:341px;left:677px;background:#ff9494"></div>
<div class="c d" style="top:341px;left:709px;background:#ff9494"></div>
<div class="c d" style="top:341px;left:741px;background:#ff9494"></div>
<div class="c d w" style="top:341px;left:773px;background:#4d4d4d"><b>3</b></div>
<div class="c d w" style="top:341px;left:805px;background:#4d4d4d"><b>1</b></div>
<div class="c d w" style="top:341px;left:837px;background:#4d4d4d"><b>2</b></div>
<div class="c d w" style="top:341px;left:869px;background:#4d4d4d"></div>
<div class="c n" style="top:361px"><b>20</b></div>
<div class="c m r" style="top:361px"><span>Openda</span></div>
<div class="c d" style="top:361px;left:133px;background:#cccccc"><b>31</b></div>
<div class="c d" style="top:361px;left:165px;background:#cccccc"><b>22</b></div>
<div class="c d" style="top:361px;left:197px;background:#cccccc"><b>7</b></div>
<div class="c d" style="top:361px;left:229px;background:#cccccc"><b>2</b></div>
<div class="c d" style="top:361px;left:261px;background:#99cc66"><b>2</b></div>
<div class="c d" style="top:361px;left:293px;background:#99cc66"><b>1</b></div>
<div class="c d" style="top:361px;left:325px;background:#99cc66"><b>1</b></div>
<div class="c d" style="top:361px;left:357px;background:#99cc66"></div>
<div class="c d" style="top:361px;left:389px;background:#66ccff"><b>0</b></div>
<div class="c d" style="top:361px;left:421px;background:#66ccff"></div>
<div class="c d" style="top:361px;left:453px;background:#66ccff"></div>
<div class="c d" style="top:361px;left:485px;background:#66ccff"></div>
<div class="c d" style="top:361px;left:517px;background:#ffd022"><b>0</b></div>
<div class="c d" style="top:361px;left:549px;background:#ffd022"></div>
<div class="c d" style="top:361px;left:581px;background:#ffd022"></div>
<div class="c d" style="top:361px;left:613px;background:#ffd022"></div>
<div class="c d" style="top:361px;left:645px;background:#ff7f7f"><b>0</b></div>
<div class="c d" style="top:361px;left:677px;background:#ff7f7f"></div>
<div class="c d" style="top:361px;left:709px;background:#ff7f7f"></div>
<div class="c d" style="top:361px;left:741px;background:#ff7f7f"></div>
<div class="c d w" style="top:361px;left:773px;background:#666666"><b>0</b></div>
<div class="c d w" style="top:361px;left:805px;background:#666666"></div>
<div class="c d w" style="top:361px;left:837px;background:#666666"></div>
<div class="c d w" style="top:361px;left:869px;background:#666666"></div>
<div class="c n" style="top:381px"><b>21</b></div>
<div class="c m g" style="top:381px"><span>Miretti</span></div>
<div class="c d" style="top:381px;left:133px;background:#dcdcdc"><b>21</b></div>
<div class="c d" style="top:381px;left:165px;background:#dcdcdc"><b>14</b></div>
<div class="c d" style="top:381px;left:197px;background:#dcdcdc"><b>6</b></div>
<div class="c d" style="top:381px;left:229px;background:#dcdcdc"><b>1</b></div>
<div class="c d" style="top:381px;left:261px;background:#aad44e"><b>1</b></div>
<div class="c d" style="top:381px;left:293px;background:#aad44e"><b>1</b></div>
<div class="c d" style="top:381px;left:325px;background:#aad44e"></div>
<div class="c d" style="top:381px;left:357px;background:#aad44e"></div>
<div class="c d" style="top:381px;left:389px;background:#55d4ff"><b>3</b></div>
<div class="c d" style="top:381px;left:421px;background:#55d4ff"><b>2</b></div>
<div class="c d" style="top:381px;left:453px;background:#55d4ff"><b>1</b></div>
<div class="c d" style="top:381px;left:485px;background:#55d4ff"></div>
<div class="c d" style="top:381px;left:517px;background:#ffdb16"><b>2</b></div>
<div class="c d" style="top:381px;left:549px;background:#ffdb16"><b>1</b></div>
<div class="c d" style="top:381px;left:581px;background:#ffdb16"><b>1</b></div>
<div class="c d" style="top:381px;left:613px;background:#ffdb16"></div>
<div class="c d" style="top:381px;left:645px;background:#ff9494"><b>0</b></div>
<div class="c d" style="top:381px;left:677px;background:#ff9494"></div>
<div class="c d" style="top:381px;left:709px;background:#ff9494"></div>
<div class="c d" style="top:381px;left:741px;background:#ff9494"></div>
<div class="c d w" style="top:381px;left:773px;background:#4d4d4d"><b>9</b></div>
<div class="c d w" style="top:381px;left:805px;background:#4d4d4d"><b>9</b></div>
<div class="c d w" style="top:381px;left:837px;background:#4d4d4d"></div>
<div class="c d w" style="top:381px;left:869px;background:#4d4d4d"></div>
<div class="c n" style="top:401px"><b>22</b></div>
<div class="c m g" style="top:401px"><span>McKennie</span></div>
<div class="c d" style="top:401px;left:133px;background:#cccccc"><b>36</b></div>
<div class="c d" style="top:401px;left:165px;background:#cccccc"><b>25</b></div>
<div class="c d" style="top:401px;left:197px;background:#cccccc"><b>9</b></div>
<div class="c d" style="top:401px;left:229px;background:#cccccc"><b>2</b></div>
<div class="c d" style="top:401px;left:261px;background:#99cc66"><b>7</b></div>
<div class="c d" style="top:401px;left:293px;background:#99cc66"><b>4</b></div>
<div class="c d" style="top:401px;left:325px;background:#99cc66"><b>3</b></div>
<div class="c d" style="top:401px;left:357px;background:#99cc66"></div>
<div class="c d" style="top:401px;left:389px;background:#66ccff"><b>5</b></div>
<div class="c d" style="top:401px;left:421px;background:#66ccff"><b>4</b></div>
<div class="c d" style="top:401px;left:453px;background:#66ccff"><b>1</b></div>
<div class="c d" style="top:401px;left:485px;background:#66ccff"></div>
<div class="c d" style="top:401px;left:517px;background:#ffd022"><b>5</b></div>
<div class="c d" style="top:401px;left:549px;background:#ffd022"><b>4</b></div>
<div class="c d" style="top:401px;left:581px;background:#ffd022"><b>1</b></div>
<div class="c d" style="top:401px;left:613px;background:#ffd022"></div>
<div class="c d" style="top:401px;left:645px;background:#ff7f7f"><b>0</b></div>
<div class="c d" style="top:401px;left:677px;background:#ff7f7f"></div>
<div class="c d" style="top:401px;left:709px;background:#ff7f7f"></div>
<div class="c d" style="top:401px;left:741px;background:#ff7f7f"></div>
<div class="c d w" style="top:401px;left:773px;background:#666666"><b>0</b></div>
<div class="c d w" style="top:401px;left:805px;background:#666666"></div>
<div class="c d w" style="top:401px;left:837px;background:#666666"></div>
<div class="c d w" style="top:401px;left:869px;background:#666666"></div>
<div class="c n" style="top:421px"><b>23</b></div>
<div class="c m o" style="top:421px"><span>Pinsoglio</span></div>
<div class="c d" style="top:421px;left:133px;background:#dcdcdc"><b>0</b></div>
<div class="c d" style="top:421px;left:165px;background:#dcdcdc"></div>
<div class="c d" style="top:421px;left:197px;background:#dcdcdc"></div>
<div class="c d" style="top:421px;left:229px;background:#dcdcdc"></div>
<div class="c d" style="top:421px;left:261px;background:#aad44e"><b>0</b></div>
<div class="c d" style="top:421px;left:293px;background:#aad44e"></div>
<div class="c d" style="top:421px;left:325px;background:#aad44e"></div>
<div class="c d" style="top:421px;left:357px;background:#aad44e"></div>
<div class="c d" style="top:421px;left:389px;background:#55d4ff"><b>0</b></div>
<div class="c d" style="top:421px;left:421px;background:#55d4ff"></div>
<div class="c d" style="top:421px;left:453px;background:#55d4ff"></div>
<div class="c d" style="top:421px;left:485px;background:#55d4ff"></div>
<div class="c d" style="top:421px;left:517px;background:#ffdb16"><b>0</b></div>
<div class="c d" style="top:421px;left:549px;background:#ffdb16"></div>
<div class="c d" style="top:421px;left:581px;background:#ffdb16"></div>
<div class="c d" style="top:421px;left:613px;background:#ffdb16"></div>
<div class="c d" style="top:421px;left:645px;background:#ff9494"><b>0</b></div>
<div class="c d" style="top:421px;left:677px;background:#ff9494"></div>
<div class="c d" style="top:421px;left:709px;background:#ff9494"></div>
<div class="c d" style="top:421px;left:741px;background:#ff9494"></div>
<div class="c d w" style="top:421px;left:773px;background:#4d4d4d"><b>16</b></div>
<div class="c d w" style="top:421px;left:805px;background:#4d4d4d"><b>15</b></div>
<div class="c d w" style="top:421px;left:837px;background:#4d4d4d"><b>1</b></div>
<div class="c d w" style="top:421px;left:869px;background:#4d4d4d"></div>
<div class="c n" style="top:441px"><b>27</b></div>
<div class="c m k" style="top:441px"><span>Cambiaso</span></div>
<div class="c d" style="top:441px;left:133px;background:#cccccc"><b>35</b></div>
<div class="c d" style="top:441px;left:165px;background:#cccccc"><b>24</b></div>
<div class="c d" style="top:441px;left:197px;background:#cccccc"><b>9</b></div>
<div class="c d" style="top:441px;left:229px;background:#cccccc"><b>2</b></div>
<div class="c d" style="top:441px;left:261px;background:#99cc66"><b>2</b></div>
<div class="c d" style="top:441px;left:293px;background:#99cc66"><b>2</b></div>
<div class="c d" style="top:441px;left:325px;background:#99cc66"></div>
<div class="c d" style="top:441px;left:357px;background:#99cc66"></div>
<div class="c d" style="top:441px;left:389px;background:#66ccff"><b>3</b></div>
<div class="c d" style="top:441px;left:421px;background:#66ccff"><b>2</b></div>
<div class="c d" style="top:441px;left:453px;background:#66ccff"><b>1</b></div>
<div class="c d" style="top:441px;left:485px;background:#66ccff"></div>
<div class="c d" style="top:441px;left:517px;background:#ffd022"><b>5</b></div>
<div class="c d" style="top:441px;left:549px;background:#ffd022"><b>2</b></div>
<div class="c d" style="top:441px;left:581px;background:#ffd022"><b>3</b></div>
<div class="c d" style="top:441px;left:613px;background:#ffd022"></div>
<div class="c d" style="top:441px;left:645px;background:#ff7f7f"><b>1</b></div>
<div class="c d" style="top:441px;left:677px;background:#ff7f7f"><b>1</b></div>
<div class="c d" style="top:441px;left:709px;background:#ff7f7f"></div>
<div class="c d" style="top:441px;left:741px;background:#ff7f7f"></div>
<div class="c d w" style="top:441px;left:773px;background:#666666"><b>2</b></div>
<div class="c d w" style="top:441px;left:805px;background:#666666"></div>
<div class="c d w" style="top:441px;left:837px;background:#666666"></div>
<div class="c d w" style="top:441px;left:869px;background:#666666"><b>2</b></div>
<div class="c n" style="top:461px"><b>30</b></div>
<div class="c m r" style="top:461px"><span>David</span></div>
<div class="c d" style="top:461px;left:133px;background:#dcdcdc"><b>35</b></div>
<div class="c d" style="top:461px;left:165px;background:#dcdcdc"><b>25</b></div>
<div class="c d" style="top:461px;left:197px;background:#dcdcdc"><b>8</b></div>
<div class="c d" style="top:461px;left:229px;background:#dcdcdc"><b>2</b></div>
<div class="c d" style="top:461px;left:261px;background:#aad44e"><b>7</b></div>
<div class="c d" style="top:461px;left:293px;background:#aad44e"><b>5</b></div>
<div class="c d" style="top:461px;left:325px;background:#aad44e"><b>2</b></div>
<div class="c d" style="top:461px;left:357px;background:#aad44e"></div>
<div class="c d" style="top:461px;left:389px;background:#55d4ff"><b>5</b></div>
<div class="c d" style="top:461px;left:421px;background:#55d4ff"><b>4</b></div>
<div class="c d" style="top:461px;left:453px;background:#55d4ff"><b>1</b></div>
<div class="c d" style="top:461px;left:485px;background:#55d4ff"></div>
<div class="c d" style="top:461px;left:517px;background:#ffdb16"><b>0</b></div>
<div class="c d" style="top:461px;left:549px;background:#ffdb16"></div>
<div class="c d" style="top:461px;left:581px;background:#ffdb16"></div>
<div class="c d" style="top:461px;left:613px;background:#ffdb16"></div>
<div class="c d" style="top:461px;left:645px;background:#ff9494"><b>0</b></div>
<div class="c d" style="top:461px;left:677px;background:#ff9494"></div>
<div class="c d" style="top:461px;left:709px;background:#ff9494"></div>
<div class="c d" style="top:461px;left:741px;background:#ff9494"></div>
<div class="c d w" style="top:461px;left:773px;background:#4d4d4d"><b>1</b></div>
<div class="c d w" style="top:461px;left:805px;background:#4d4d4d"><b>1</b></div>
<div class="c d w" style="top:461px;left:837px;background:#4d4d4d"></div>
<div class="c d w" style="top:461px;left:869px;background:#4d4d4d"></div>
<div class="c n" style="top:481px"><b>32</b></div>
<div class="c m k" style="top:481px"><span>Cabal</span></div>
<div class="c d" style="top:481px;left:133px;background:#cccccc"><b>19</b></div>
<div class="c d" style="top:481px;left:165px;background:#cccccc"><b>12</b></div>
<div class="c d" style="top:481px;left:197px;background:#cccccc"><b>6</b></div>
<div class="c d" style="top:481px;left:229px;background:#cccccc"><b>1</b></div>
<div class="c d" style="top:481px;left:261px;background:#99cc66"><b>2</b></div>
<div class="c d" style="top:481px;left:293px;background:#99cc66"><b>2</b></div>
<div class="c d" style="top:481px;left:325px;background:#99cc66"></div>
<div class="c d" style="top:481px;left:357px;background:#99cc66"></div>
<div class="c d" style="top:481px;left:389px;background:#66ccff"><b>0</b></div>
<div class="c d" style="top:481px;left:421px;background:#66ccff"></div>
<div class="c d" style="top:481px;left:453px;background:#66ccff"></div>
<div class="c d" style="top:481px;left:485px;background:#66ccff"></div>
<div class="c d" style="top:481px;left:517px;background:#ffd022"><b>3</b></div>
<div class="c d" style="top:481px;left:549px;background:#ffd022"><b>1</b></div>
<div class="c d" style="top:481px;left:581px;background:#ffd022"><b>2</b></div>
<div class="c d" style="top:481px;left:613px;background:#ffd022"></div>
<div class="c d" style="top:481px;left:645px;background:#ff7f7f"><b>1</b></div>
<div class="c d" style="top:481px;left:677px;background:#ff7f7f"></div>
<div class="c d" style="top:481px;left:709px;background:#ff7f7f"><b>1</b></div>
<div class="c d" style="top:481px;left:741px;background:#ff7f7f"></div>
<div class="c d w" style="top:481px;left:773px;background:#666666"><b>12</b></div>
<div class="c d w" style="top:481px;left:805px;background:#666666"><b>10</b></div>
<div class="c d w" style="top:481px;left:837px;background:#666666"><b>2</b></div>
<div class="c d w" style="top:481px;left:869px;background:#666666"></div>
<div class="c n xw" style="top:501px"><b>11</b></div>
<div class="c m x" style="top:501px"><span>N. Gonzalez</span></div>
<div class="c d x" style="top:501px;left:133px;background:#dcdcdc"><b>2</b></div>
<div class="c d x" style="top:501px;left:165px;background:#dcdcdc"><b>2</b></div>
<div class="c d x" style="top:501px;left:197px;background:#dcdcdc"></div>
<div class="c d x" style="top:501px;left:229px;background:#dcdcdc"></div>
<div class="c d x" style="top:501px;left:261px;background:#aad44e"><b>0</b></div>
<div class="c d x" style="top:501px;left:293px;background:#aad44e"></div>
<div class="c d x" style="top:501px;left:325px;background:#aad44e"></div>
<div class="c d x" style="top:501px;left:357px;background:#aad44e"></div>
<div class="c d x" style="top:501px;left:389px;background:#55d4ff"><b>0</b></div>
<div class="c d x" style="top:501px;left:421px;background:#55d4ff"></div>
<div class="c d x" style="top:501px;left:453px;background:#55d4ff"></div>
<div class="c d x" style="top:501px;left:485px;background:#55d4ff"></div>
<div class="c d x" style="top:501px;left:517px;background:#ffdb16"><b>0</b></div>
<div class="c d x" style="top:501px;left:549px;background:#ffdb16"></div>
<div class="c d x" style="top:501px;left:581px;background:#ffdb16"></div>
<div class="c d x" style="top:501px;left:613px;background:#ffdb16"></div>
<div class="c d x" style="top:501px;left:645px;background:#ff9494"><b>0</b></div>
<div class="c d x" style="top:501px;left:677px;background:#ff9494"></div>
<div class="c d x" style="top:501px;left:709px;background:#ff9494"></div>
<div class="c d x" style="top:501px;left:741px;background:#ff9494"></div>
<div class="c d xw" style="top:501px;left:773px;background:#4d4d4d"><b>0</b></div>
<div class="c d xw" style="top:501px;left:805px;background:#4d4d4d"></div>
<div class="c d xw" style="top:501px;left:837px;background:#4d4d4d"></div>
<div class="c d xw" style="top:501px;left:869px;background:#4d4d4d"></div>
<div class="c n xw" style="top:521px"><b>24</b></div>
<div class="c m x" style="top:521px"><span>Rugani</span></div>
<div class="c d x" style="top:521px;left:133px;background:#cccccc"><b>8</b></div>
<div class="c d x" style="top:521px;left:165px;background:#cccccc"><b>6</b></div>
<div class="c d x" style="top:521px;left:197px;background:#cccccc"><b>2</b></div>
<div class="c d x" style="top:521px;left:229px;background:#cccccc"></div>
<div class="c d x" style="top:521px;left:261px;background:#99cc66"><b>0</b></div>
<div class="c d x" style="top:521px;left:293px;background:#99cc66"></div>
<div class="c d x" style="top:521px;left:325px;background:#99cc66"></div>
<div class="c d x" style="top:521px;left:357px;background:#99cc66"></div>
<div class="c d x" style="top:521px;left:389px;background:#66ccff"><b>0</b></div>
<div class="c d x" style="top:521px;left:421px;background:#66ccff"></div>
<div class="c d x" style="top:521px;left:453px;background:#66ccff"></div>
<div class="c d x" style="top:521px;left:485px;background:#66ccff"></div>
<div class="c d x" style="top:521px;left:517px;background:#ffd022"><b>0</b></div>
<div class="c d x" style="top:521px;left:549px;background:#ffd022"></div>
<div class="c d x" style="top:521px;left:581px;background:#ffd022"></div>
<div class="c d x" style="top:521px;left:613px;background:#ffd022"></div>
<div class="c d x" style="top:521px;left:645px;background:#ff7f7f"><b>0</b></div>
<div class="c d x" style="top:521px;left:677px;background:#ff7f7f"></div>
<div class="c d x" style="top:521px;left:709px;background:#ff7f7f"></div>
<div class="c d x" style="top:521px;left:741px;background:#ff7f7f"></div>
<div class="c d xw" style="top:521px;left:773px;background:#666666"><b>14</b></div>
<div class="c d xw" style="top:521px;left:805px;background:#666666"><b>14</b></div>
<div class="c d xw" style="top:521px;left:837px;background:#666666"></div>
<div class="c d xw" style="top:521px;left:869px;background:#666666"></div>
<div class="c n xw" style="top:541px"><b>25</b></div>
<div class="c m x" style="top:541px"><span>Joao Mario</span></div>
<div class="c d x" style="top:541px;left:133px;background:#dcdcdc"><b>13</b></div>
<div class="c d x" style="top:541px;left:165px;background:#dcdcdc"><b>10</b></div>
<div class="c d x" style="top:541px;left:197px;background:#dcdcdc"><b>2</b></div>
<div class="c d x" style="top:541px;left:229px;background:#dcdcdc"><b>1</b></div>
<div class="c d x" style="top:541px;left:261px;background:#aad44e"><b>0</b></div>
<div class="c d x" style="top:541px;left:293px;background:#aad44e"></div>
<div class="c d x" style="top:541px;left:325px;background:#aad44e"></div>
<div class="c d x" style="top:541px;left:357px;background:#aad44e"></div>
<div class="c d x" style="top:541px;left:389px;background:#55d4ff"><b>1</b></div>
<div class="c d x" style="top:541px;left:421px;background:#55d4ff"></div>
<div class="c d x" style="top:541px;left:453px;background:#55d4ff"><b>1</b></div>
<div class="c d x" style="top:541px;left:485px;background:#55d4ff"></div>
<div class="c d x" style="top:541px;left:517px;background:#ffdb16"><b>1</b></div>
<div class="c d x" style="top:541px;left:549px;background:#ffdb16"><b>1</b></div>
<div class="c d x" style="top:541px;left:581px;background:#ffdb16"></div>
<div class="c d x" style="top:541px;left:613px;background:#ffdb16"></div>
<div class="c d x" style="top:541px;left:645px;background:#ff9494"><b>0</b></div>
<div class="c d x" style="top:541px;left:677px;background:#ff9494"></div>
<div class="c d x" style="top:541px;left:709px;background:#ff9494"></div>
<div class="c d x" style="top:541px;left:741px;background:#ff9494"></div>
<div class="c d xw" style="top:541px;left:773px;background:#4d4d4d"><b>0</b></div>
<div class="c d xw" style="top:541px;left:805px;background:#4d4d4d"></div>
<div class="c d xw" style="top:541px;left:837px;background:#4d4d4d"></div>
<div class="c d xw" style="top:541px;left:869px;background:#4d4d4d"></div>
</div>
<svg width="960" height="741" viewBox="0 0 960 741" font-family="Liberation Sans, Arial, sans-serif" font-weight="bold" font-size="2048">
<text transform="matrix(0,-0.01368,0.02044,0,943.4,518.29)" fill="#dddddd" stroke="#dddddd" stroke-width="3.2" vector-effect="non-scaling-stroke">V</text>
<text transform="matrix(0,-0.00949,0.02044,0,943.4,495.8)" fill="#dddddd" stroke="#dddddd" stroke-width="3.2" vector-effect="non-scaling-stroke">E</text>
<text transform="matrix(0,-0.01173,0.02044,0,943.4,478.68)" fill="#dddddd" stroke="#dddddd" stroke-width="3.2" vector-effect="non-scaling-stroke">C</text>
<text transform="matrix(0,-0.01225,0.02044,0,943.4,457.13)" fill="#dddddd" stroke="#dddddd" stroke-width="3.2" vector-effect="non-scaling-stroke">C</text>
<text transform="matrix(0,-0.01047,0.02044,0,943.4,435.23)" fill="#dddddd" stroke="#dddddd" stroke-width="3.2" vector-effect="non-scaling-stroke">H</text>
<text transform="matrix(0,-0.01661,0.02044,0,943.4,419.28)" fill="#dddddd" stroke="#dddddd" stroke-width="3.2" vector-effect="non-scaling-stroke">I</text>
<text transform="matrix(0,-0.01608,0.02044,0,943.4,407.72)" fill="#dddddd" stroke="#dddddd" stroke-width="3.2" vector-effect="non-scaling-stroke">A</text>
<text transform="matrix(0,-0.01141,0.02044,0,943.4,380.07)" fill="#dddddd" stroke="#dddddd" stroke-width="3.2" vector-effect="non-scaling-stroke">S</text>
<text transform="matrix(0,-0.01492,0.02044,0,943.4,361.44)" fill="#dddddd" stroke="#dddddd" stroke-width="3.2" vector-effect="non-scaling-stroke">I</text>
<text transform="matrix(0,-0.01274,0.02044,0,943.4,349.07)" fill="#dddddd" stroke="#dddddd" stroke-width="3.2" vector-effect="non-scaling-stroke">G</text>
<text transform="matrix(0,-0.01312,0.02044,0,943.4,327.2)" fill="#dddddd" stroke="#dddddd" stroke-width="3.2" vector-effect="non-scaling-stroke">N</text>
<text transform="matrix(0,-0.01237,0.02044,0,943.4,304.64)" fill="#dddddd" stroke="#dddddd" stroke-width="3.2" vector-effect="non-scaling-stroke">O</text>
<text transform="matrix(0,-0.01138,0.02044,0,943.4,281.56)" fill="#dddddd" stroke="#dddddd" stroke-width="3.2" vector-effect="non-scaling-stroke">R</text>
<text transform="matrix(0,-0.01135,0.02044,0,943.4,259.78)" fill="#dddddd" stroke="#dddddd" stroke-width="3.2" vector-effect="non-scaling-stroke">A</text>
<text transform="matrix(0,-0.00761,0.02044,0,943.4,240.16)" fill="#fde8d9" stroke="#fde8d9" stroke-width="3.2" vector-effect="non-scaling-stroke">.</text>
<text transform="matrix(0,-0.01225,0.02044,0,943.4,231.43)" fill="#fde8d9" stroke="#fde8d9" stroke-width="3.2" vector-effect="non-scaling-stroke">C</text>
<text transform="matrix(0,-0.01054,0.02044,0,943.4,208.29)" fill="#fde8d9" stroke="#fde8d9" stroke-width="3.2" vector-effect="non-scaling-stroke">O</text>
<text transform="matrix(0,-0.01564,0.02044,0,943.4,188.54)" fill="#fde8d9" stroke="#fde8d9" stroke-width="3.2" vector-effect="non-scaling-stroke">M</text>
</svg>
<div id="upd">aggiornato al 21-2-2026</div>
</body></html>
